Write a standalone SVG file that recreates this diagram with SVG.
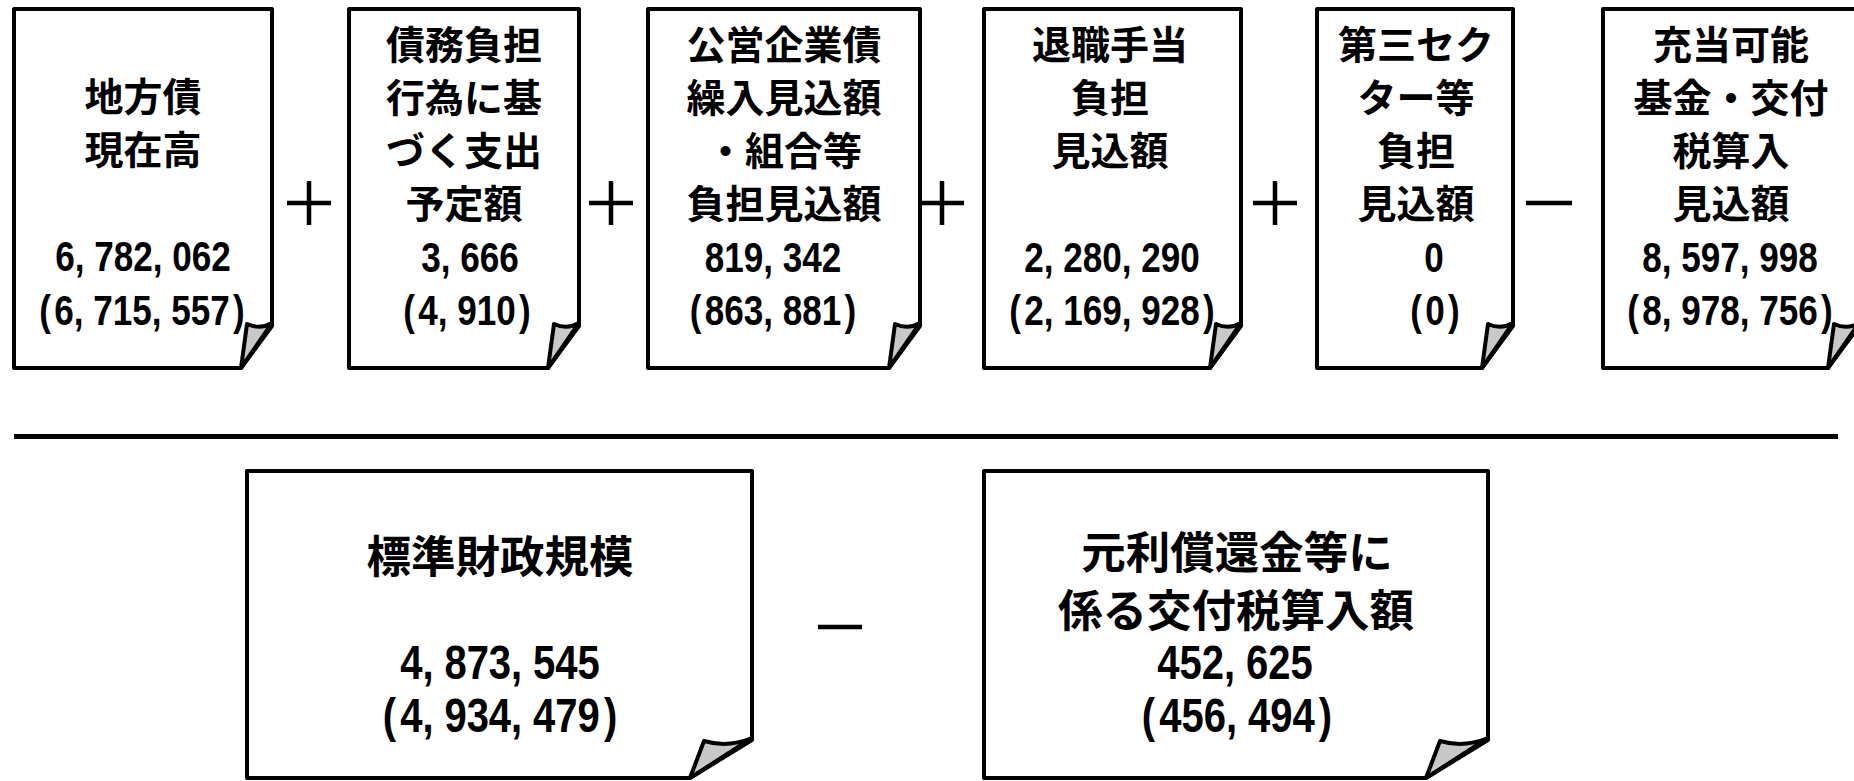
<svg xmlns="http://www.w3.org/2000/svg" width="1854" height="781" viewBox="0 0 1854 781">
<style>
.box{fill:#fff;stroke:#000;stroke-width:4;stroke-linejoin:round}
.curl{fill:#c8c8c8;stroke:#000;stroke-width:4;stroke-linejoin:round}
.jp{font-family:"Noto Sans CJK JP","Noto Sans CJK SC",sans-serif;font-weight:700;font-size:39px;text-anchor:middle;fill:#000}
.jpl{font-size:44.5px}
.num{font-family:"Liberation Sans",Arial,sans-serif;font-weight:700;font-size:43px;text-anchor:middle;fill:#000}
.numl{font-size:48px}
.op{stroke:#000;stroke-width:4.5;fill:none}
</style>
<rect width="1854" height="781" fill="#fff"/>
<g id="connectors">
<path class="op" d="M287,203 H331 M309,181 V225"/>
<path class="op" d="M589,203 H633 M611,181 V225"/>
<path class="op" d="M920,203 H964 M942,181 V225"/>
<path class="op" d="M1253,203 H1297 M1275,181 V225"/>
<path class="op" d="M1526,203 H1572"/>
<path class="op" d="M818,627 H862"/>
<path stroke="#000" stroke-width="5" d="M14,436.5 H1838"/>
</g>
<g id="n1">
<path class="box" d="M14,9 H272 V326 L241,368 H14 Z"/>
<path class="curl" d="M247,324 Q260,330 272,323 L241,368 Z"/>
<text class="jp" x="143" y="111">地方債</text>
<text class="jp" x="143" y="164">現在高</text>
<text class="num" transform="translate(143,0) scale(0.816,1)" x="0" y="271">6,<tspan dx="12">782,</tspan><tspan dx="12">062</tspan></text>
<text class="num" transform="translate(142,0) scale(0.816,1)" x="0" y="325">(<tspan dx="4">6,</tspan><tspan dx="12">715,</tspan><tspan dx="12">557</tspan><tspan dx="4">)</tspan></text>
</g>
<g id="n2">
<path class="box" d="M349,9 H579 V326 L548,368 H349 Z"/>
<path class="curl" d="M554,324 Q567,330 579,323 L548,368 Z"/>
<text class="jp" x="464" y="59">債務負担</text>
<text class="jp" x="464" y="112">行為に基</text>
<text class="jp" x="464" y="165">づく支出</text>
<text class="jp" x="464" y="218">予定額</text>
<text class="num" transform="translate(470,0) scale(0.816,1)" x="0" y="272">3,<tspan dx="12">666</tspan></text>
<text class="num" transform="translate(467,0) scale(0.816,1)" x="0" y="325">(<tspan dx="4">4,</tspan><tspan dx="12">910</tspan><tspan dx="4">)</tspan></text>
</g>
<g id="n3">
<path class="box" d="M648,9 H920 V326 L889,368 H648 Z"/>
<path class="curl" d="M895,324 Q908,330 920,323 L889,368 Z"/>
<text class="jp" x="784" y="59">公営企業債</text>
<text class="jp" x="784" y="112">繰入見込額</text>
<text class="jp" x="784" y="165">・組合等</text>
<text class="jp" x="784" y="218">負担見込額</text>
<text class="num" transform="translate(773,0) scale(0.816,1)" x="0" y="272">819,<tspan dx="12">342</tspan></text>
<text class="num" transform="translate(773,0) scale(0.816,1)" x="0" y="325">(<tspan dx="4">863,</tspan><tspan dx="12">881</tspan><tspan dx="4">)</tspan></text>
</g>
<g id="n4">
<path class="box" d="M984,9 H1241 V326 L1210,368 H984 Z"/>
<path class="curl" d="M1216,324 Q1229,330 1241,323 L1210,368 Z"/>
<text class="jp" x="1110" y="59">退職手当</text>
<text class="jp" x="1110" y="112">負担</text>
<text class="jp" x="1110" y="165">見込額</text>
<text class="num" transform="translate(1112,0) scale(0.816,1)" x="0" y="272">2,<tspan dx="12">280,</tspan><tspan dx="12">290</tspan></text>
<text class="num" transform="translate(1112,0) scale(0.816,1)" x="0" y="325">(<tspan dx="4">2,</tspan><tspan dx="12">169,</tspan><tspan dx="12">928</tspan><tspan dx="4">)</tspan></text>
</g>
<g id="n5">
<path class="box" d="M1317,9 H1513 V326 L1482,368 H1317 Z"/>
<path class="curl" d="M1488,324 Q1501,330 1513,323 L1482,368 Z"/>
<text class="jp" x="1416" y="59">第三セク</text>
<text class="jp" x="1416" y="112">ター等</text>
<text class="jp" x="1416" y="165">負担</text>
<text class="jp" x="1416" y="218">見込額</text>
<text class="num" transform="translate(1434,0) scale(0.816,1)" x="0" y="272">0</text>
<text class="num" transform="translate(1435,0) scale(0.816,1)" x="0" y="325">(<tspan dx="4">0</tspan><tspan dx="4">)</tspan></text>
</g>
<g id="n6">
<path class="box" d="M1603,9 H1859 V326 L1828,368 H1603 Z"/>
<path class="curl" d="M1834,324 Q1847,330 1859,323 L1828,368 Z"/>
<text class="jp" x="1731" y="59">充当可能</text>
<text class="jp" x="1731" y="112">基金・交付</text>
<text class="jp" x="1731" y="165">税算入</text>
<text class="jp" x="1731" y="218">見込額</text>
<text class="num" transform="translate(1730,0) scale(0.816,1)" x="0" y="272">8,<tspan dx="12">597,</tspan><tspan dx="12">998</tspan></text>
<text class="num" transform="translate(1730,0) scale(0.816,1)" x="0" y="325">(<tspan dx="4">8,</tspan><tspan dx="12">978,</tspan><tspan dx="12">756</tspan><tspan dx="4">)</tspan></text>
</g>
<g id="n7">
<path class="box" d="M247,471 H752 V740 L690,778 H247 Z"/>
<path class="curl" d="M704,741 Q728,748 752,738 L690,778 Z"/>
<text class="jp jpl" x="500" y="573">標準財政規模</text>
<text class="num numl" transform="translate(500,0) scale(0.833,1)" x="0" y="679">4,<tspan dx="13">873,</tspan><tspan dx="13">545</tspan></text>
<text class="num numl" transform="translate(500,0) scale(0.833,1)" x="0" y="732">(<tspan dx="5">4,</tspan><tspan dx="13">934,</tspan><tspan dx="13">479</tspan><tspan dx="5">)</tspan></text>
</g>
<g id="n8">
<path class="box" d="M984,471 H1488 V740 L1426,778 H984 Z"/>
<path class="curl" d="M1440,741 Q1464,748 1488,738 L1426,778 Z"/>
<text class="jp jpl" x="1237" y="569">元利償還金等に</text>
<text class="jp jpl" x="1236" y="627">係る交付税算入額</text>
<text class="num numl" transform="translate(1235,0) scale(0.833,1)" x="0" y="679">452,<tspan dx="13">625</tspan></text>
<text class="num numl" transform="translate(1237,0) scale(0.833,1)" x="0" y="732">(<tspan dx="5">456,</tspan><tspan dx="13">494</tspan><tspan dx="5">)</tspan></text>
</g>
</svg>
